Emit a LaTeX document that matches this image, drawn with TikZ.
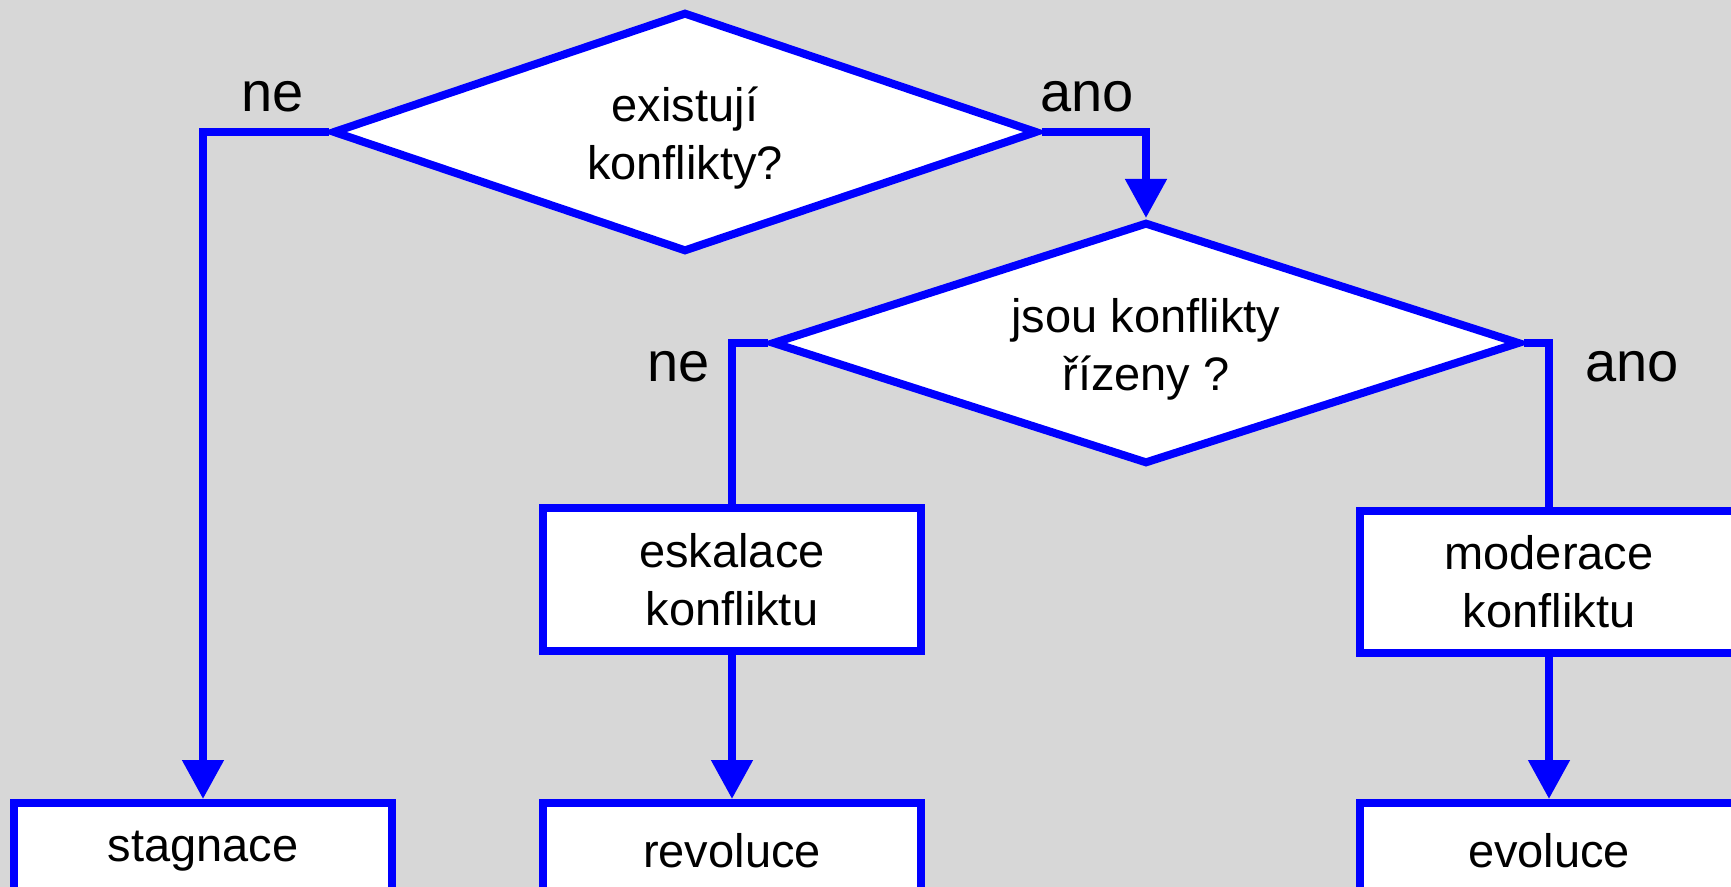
\documentclass[tikz,border=0pt]{standalone}
\usepackage{fontspec}
\setmainfont{Liberation Sans}
\usetikzlibrary{shapes.geometric,arrows.meta}
\definecolor{bg}{HTML}{D7D7D7}
\definecolor{fblue}{HTML}{0000FF}
\begin{document}
\begin{tikzpicture}[x=0.5pt,y=-0.5pt,
  every node/.style={font=\fontsize{23.5pt}{29pt}\selectfont, align=center, text=black},
  dec/.style={diamond, draw=fblue, fill=white, line width=4pt, inner sep=0pt},
  box/.style={rectangle, draw=fblue, fill=white, line width=4pt, minimum width=189pt, inner sep=0pt},
  conn/.style={draw=fblue, line width=4pt},
  arr/.style={conn, -{Triangle[length=19.5pt,width=20pt]}},
  lbl/.style={font=\fontsize{28pt}{34pt}\selectfont}]
\fill[bg] (0,0) rectangle (1731,887);
\useasboundingbox (0,0) rectangle (1731,887);
\clip (0,0) rectangle (1731,887);
% decisions
\node[dec, minimum width=352.5pt, minimum height=120pt] (d1) at (685,132) {};
\node (t1) at (685,138) {existují\\konflikty?};
\node[dec, minimum width=374pt, minimum height=121pt] (d2) at (1146,343) {};
\node (t2) at (1146,349) {jsou konflikty\\řízeny ?};
% boxes
\node[box, minimum height=71.5pt] (esk) at (732,580) {eskalace\\konfliktu};
\node[box, minimum height=71pt] (mod) at (1549,582) {moderace\\konfliktu};
\node[box, minimum height=48pt] (stag) at (203,851) {stagnace};
\node[box, minimum height=48pt] (rev) at (732,851) {revoluce};
\node[box, minimum height=48pt] (evo) at (1549,851) {evoluce};
% labels
\node[lbl] (l1) at (273,97) {ne};
\node[lbl] (l2) at (1087,97) {ano};
\node[lbl] (l3) at (679,367) {ne};
\node[lbl] (l4) at (1632,367) {ano};
% connectors
\draw[arr] (d1.west) -| (stag.north);
\draw[arr] (d1.east) -| (d2.north);
\draw[conn] (d2.west) -| (esk.north);
\draw[conn] (d2.east) -| (mod.north);
\draw[arr] (esk.south) -- (rev.north);
\draw[arr] (mod.south) -- (evo.north);
\end{tikzpicture}
\end{document}
